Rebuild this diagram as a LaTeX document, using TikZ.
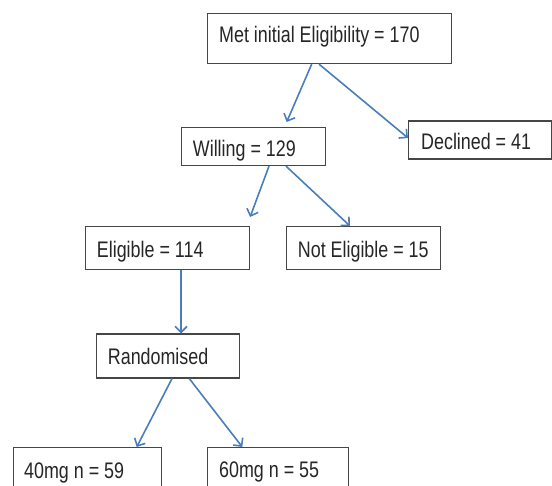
\documentclass[tikz,border=0pt]{standalone}
\usepackage{fontspec}
\setmainfont{Liberation Sans}[FakeStretch=0.795]
\usetikzlibrary{arrows.meta}
\definecolor{arrowblue}{RGB}{74,126,187}
\definecolor{boxgray}{RGB}{70,70,70}
\tikzset{
  box/.style={draw=boxgray, line width=1.1pt, fill=white, inner sep=0pt, anchor=north west},
  txt/.style={anchor=base west, inner sep=0pt, font=\fontsize{22.5pt}{25pt}\selectfont, text=black!85},
  conn/.style={draw=arrowblue, line width=1.6pt, -{Straight Barb[length=6pt,width=12pt,line width=1.6pt]}}
}
\begin{document}
\begin{tikzpicture}[x=1pt,y=-1pt]
\useasboundingbox (0,0) rectangle (552,486);
\clip (0,0) rectangle (552,486);
% boxes
\node[box, minimum width=244pt, minimum height=50pt] (met) at (207,13) {};
\node[box, minimum width=144pt, minimum height=38pt] (will) at (181,127) {};
\node[box, minimum width=143pt, minimum height=38pt] (decl) at (408,120.5) {};
\node[box, minimum width=164pt, minimum height=43pt] (elig) at (85,226) {};
\node[box, minimum width=154pt, minimum height=43pt] (notel) at (286,226) {};
\node[box, minimum width=143pt, minimum height=44pt] (rand) at (96,333.5) {};
\node[box, minimum width=148pt, minimum height=44pt] (d40) at (12.7,447) {};
\node[box, minimum width=141pt, minimum height=44pt] (d60) at (207,447) {};
% texts
\node[txt] (met-t) at (219,42.7) {Met initial Eligibility = 170};
\node[txt] (will-t) at (192.7,156.7) {Willing = 129};
\node[txt] (decl-t) at (421,149.3) {Declined = 41};
\node[txt] (elig-t) at (96.7,257.3) {Eligible = 114};
\node[txt] (notel-t) at (297.7,257.3) {Not Eligible = 15};
\node[txt] (rand-t) at (107.7,365) {Randomised};
\node[txt] (d40-t) at (24,478.3) {40mg n = 59};
\node[txt] (d60-t) at (219,477.3) {60mg n = 55};
% connectors
\draw[conn] ([xshift=104.7pt]met.south west) -- ([xshift=105.7pt,yshift=5pt]will.north west);
\draw[conn] ([xshift=112pt]met.south west) -- ([yshift=-17.5pt]decl.north west);
\draw[conn] ([xshift=88pt]will.south west) -- ([yshift=9pt]elig.north east);
\draw[conn] ([xshift=105pt]will.south west) -- ([xshift=64pt]notel.north west);
\draw[conn] ([xshift=96pt]elig.south west) -- ([xshift=85pt]rand.north west);
\draw[conn] ([xshift=76pt]rand.south west) -- ([xshift=124pt]d40.north west);
\draw[conn] ([xshift=93.3pt]rand.south west) -- ([xshift=35.3pt]d60.north west);
\end{tikzpicture}
\end{document}
